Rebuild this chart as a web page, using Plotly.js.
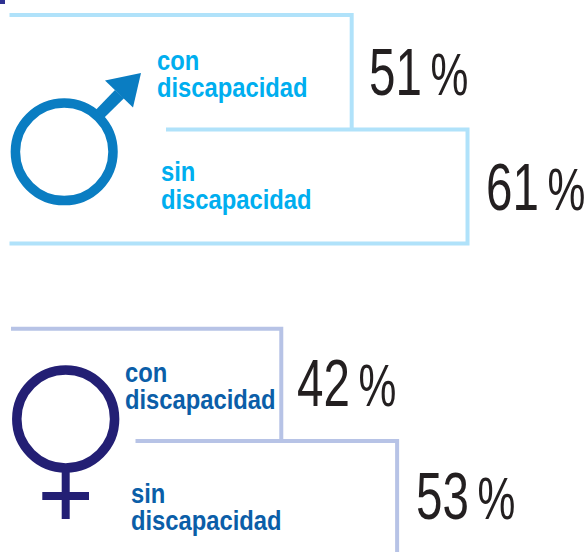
<!DOCTYPE html>
<html><head><meta charset="utf-8">
<script src="https://cdn.plot.ly/plotly-3.0.1.min.js"></script>
<style>html,body{margin:0;padding:0;background:#fff;overflow:hidden}
.js-line{stroke-linejoin:miter!important;stroke-miterlimit:10!important}</style>
</head><body><div id="chart" style="width:588px;height:552px"></div>
<script>
// Data
const groups = ['hombres','hombres','mujeres','mujeres'];
const categories = ['con discapacidad','sin discapacidad','con discapacidad','sin discapacidad'];
const values = [51,61,42,53];

// Layout constants
const W=588,H=552,pxPerPct=6.4;
const lineColors={hombres:'#b0e2fa',mujeres:'#b7c3e6'};
const textColors={hombres:'#00aeef',mujeres:'#0b5ea8'};
const shift=[3.95,12.05,1.95,9.05];     // right-edge shift in % units
const startPx=[9.5,166,11,135.5];
const bottomStartPx=[null,9.5,null,null];
const topY=[15,129.5,328.7,441];
const botY=[129.5,243.5,441,560];
const labelPos=[[155.5,69,95.7],[159.5,180,207.5],[123.5,381,407.7],[129.5,501.7,529.3]];
const valuePos=[[368,96],[485,211],[295.5,407],[415,520]];
const labelScale=0.88,valueScale=0.71;

const xP=v=>v/pxPerPct, px=x=>x/W, py=y=>1-y/H;
const traces=values.map((v,i)=>{
  const r=shift[i]+v, s=xP(startPx[i]);
  const x=[s,r,r], y=[topY[i],topY[i],botY[i]];
  if(bottomStartPx[i]!==null){x.push(xP(bottomStartPx[i]));y.push(botY[i]);}
  return {type:'scatter',mode:'lines',x,y,name:groups[i]+' '+categories[i],showlegend:false,hoverinfo:'skip',
    line:{color:lineColors[groups[i]],width:4,shape:'linear',simplify:false}};
});

const labelFont={family:'"Liberation Sans",sans-serif',size:27};
const anns=[];const scales=[];
const ann=(text,x,yb,font,off,sc)=>{scales.push(sc);anns.push({xref:'paper',yref:'paper',x:px(x),y:py(yb+off),text,font,showarrow:false,xanchor:'left',yanchor:'bottom',borderpad:0,align:'left'});};
categories.forEach((c,i)=>{
  const [w1,...rest]=c.split(' ');
  const col=textColors[groups[i]];
  ann('<b>'+w1+'</b>',labelPos[i][0],labelPos[i][1],{...labelFont,color:col},8,labelScale);
  ann('<b>'+rest.join(' ')+'</b>',labelPos[i][0],labelPos[i][2],{...labelFont,color:col},8,labelScale);
});
values.forEach((v,i)=>{
  ann(v+'<span style="font-size:60px">\u2009%</span>',valuePos[i][0],valuePos[i][1],{family:'"Liberation Sans",sans-serif',size:67,color:'#231f20'},14,valueScale);
});

const sym=(x0,y0,x1,y1,color)=>({type:'rect',xref:'paper',yref:'paper',x0:px(x0),x1:px(x1),y0:py(y0),y1:py(y1),fillcolor:color,line:{width:0},layer:'above'});
const circ=(cx,cy,r,color)=>({type:'circle',xref:'paper',yref:'paper',x0:px(cx-r),x1:px(cx+r),y0:py(cy-r),y1:py(cy+r),line:{color,width:9.5},fillcolor:'rgba(0,0,0,0)'});
const poly=(pts,color)=>({type:'path',xref:'paper',yref:'paper',path:'M'+pts.map(p=>px(p[0])+','+py(p[1])).join(' L')+' Z',fillcolor:color,line:{width:0}});
const male='#0a7dc2',female='#231f74';
const shapes=[
  sym(0,0,5,4,'#2e3192'),
  circ(64.2,151.8,48.8,male),
  poly([[95.2,110.5],[102.9,118.9],[124,98.3],[115,90]],male),
  poly([[141,73],[105,80.5],[133,107.5]],male),
  circ(65.7,419,48.9,female),
  sym(61.7,470,69.7,519,female),
  sym(42.3,492,89,500,female)
];

Plotly.newPlot('chart',traces,{
  width:W,height:H,margin:{l:0,r:0,t:0,b:0},paper_bgcolor:'#fff',plot_bgcolor:'#fff',showlegend:false,
  xaxis:{visible:false,range:[0,W/pxPerPct],fixedrange:true},
  yaxis:{visible:false,range:[H,0],fixedrange:true},
  annotations:anns,shapes
},{displayModeBar:false,staticPlot:true}).then(gd=>{
  gd.querySelectorAll('.annotation').forEach(g=>{
    const t=g.querySelector('text');
    const s=scales[+g.getAttribute('data-index')];
    t.style.transformBox='fill-box';t.style.transformOrigin='left center';t.style.transform='scaleX('+s+')';
  });
});
</script></body></html>
